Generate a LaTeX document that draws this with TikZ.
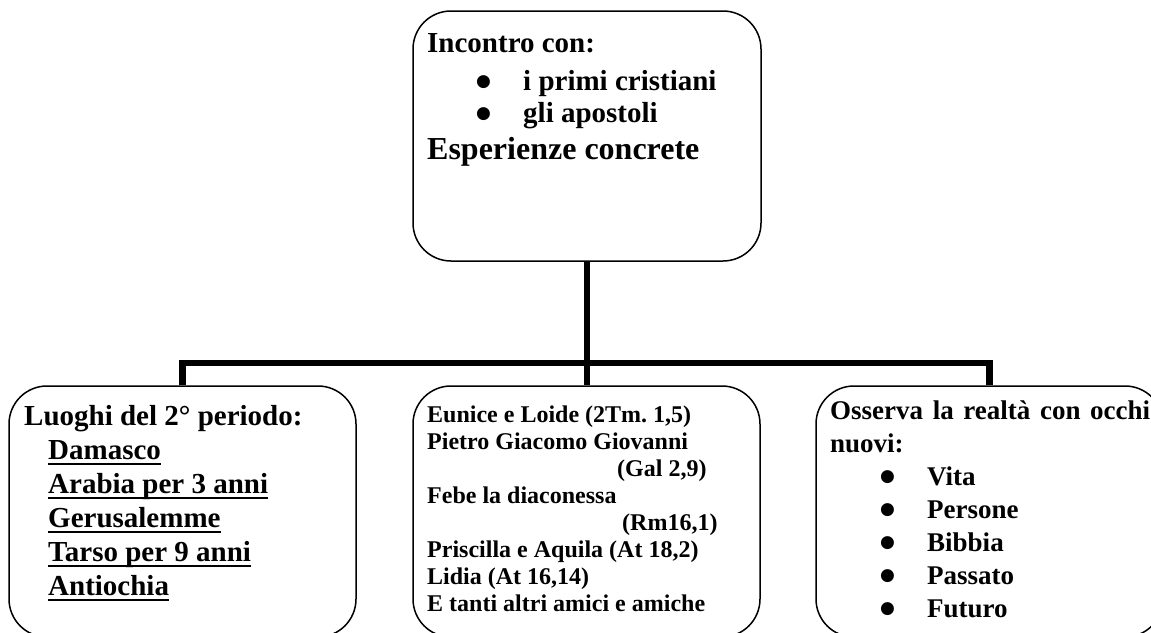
\documentclass[tikz,border=0pt]{standalone}
\usepackage{fontspec}
\setmainfont{Liberation Serif}[BoldFont={Liberation Serif Bold}]
\newfontfamily\symfont{DejaVu Sans}
\frenchspacing
\newcommand{\undl}[1]{\setbox0\hbox{#1}\rlap{\rule[-6pt]{\wd0}{2pt}}\box0}
\newcommand{\blt}[2]{\hspace*{#1}\makebox[47pt][l]{\raisebox{4pt}{\symfont\fontsize{17}{20}\selectfont ●}}#2}

\begin{document}
\begin{tikzpicture}[x=1pt, y=-1pt,
    box/.style={draw, line width=1.5pt, rounded corners=38pt, inner sep=0pt, minimum width=347pt, minimum height=251pt},
    link/.style={line width=6.5pt},
    txt/.style={inner sep=0pt, anchor=base west, font=\bfseries}]
  %%%%% START %%%%%
  \useasboundingbox (0,0) rectangle (1151,632);

  \node[box, minimum width=348pt, minimum height=250pt] (top) at (587,136) {};
  \node[box] (left) at (182.5,511.5) {};
  \node[box] (mid) at (586.5,511.5) {};
  \node[box] (right) at (989.5,511.5) {};

  \path (top.south) ++(0,101) coordinate (junction);
  \draw[link] (top.south) -- (junction);
  \draw[link] (left.north) |- (junction) -| (right.north);
  \draw[link] (junction) -- (junction |- mid.north);

  \node[txt] (toptext) at (427,52) {\fontsize{29}{33}\selectfont\begin{tabular}[t]{@{}l@{}}
    Incontro con:\\[5pt]
    \blt{49pt}{i primi cristiani}\\[-1pt]
    \blt{49pt}{gli apostoli}\\[4pt]
    {\fontsize{32}{33}\selectfont Esperienze concrete}
  \end{tabular}};

  \node[txt] (lefttext) at (24,425) {\fontsize{29}{34}\selectfont\begin{tabular}[t]{@{}l@{}}
    Luoghi del 2° periodo:\\
    \hspace*{24pt}\undl{Damasco}\\
    \hspace*{24pt}\undl{Arabia per 3 anni}\\
    \hspace*{24pt}\undl{Gerusalemme}\\
    \hspace*{24pt}\undl{Tarso per 9 anni}\\
    \hspace*{24pt}\undl{Antiochia}
  \end{tabular}};

  \node[txt] (midtext) at (427,422) {\fontsize{24}{27}\selectfont\begin{tabular}[t]{@{}l@{}}
    Eunice e Loide (2Tm. 1,5)\\
    Pietro Giacomo Giovanni\\
    \hspace*{190pt}(Gal 2,9)\\
    Febe la diaconessa\\
    \hspace*{195pt}(Rm16,1)\\
    Priscilla e Aquila (At 18,2)\\
    Lidia (At 16,14)\\
    E tanti altri amici e amiche
  \end{tabular}};

  \node[txt] (righttext) at (830,419) {\fontsize{27}{33}\selectfont\begin{tabular}[t]{@{}l@{}}
    \makebox[320pt][s]{Osserva la realtà con occhi}\\
    nuovi:\\
    \blt{50pt}{Vita}\\
    \blt{50pt}{Persone}\\
    \blt{50pt}{Bibbia}\\
    \blt{50pt}{Passato}\\
    \blt{50pt}{Futuro}
  \end{tabular}};
  %%%%% END %%%%%
\end{tikzpicture}
\end{document}
